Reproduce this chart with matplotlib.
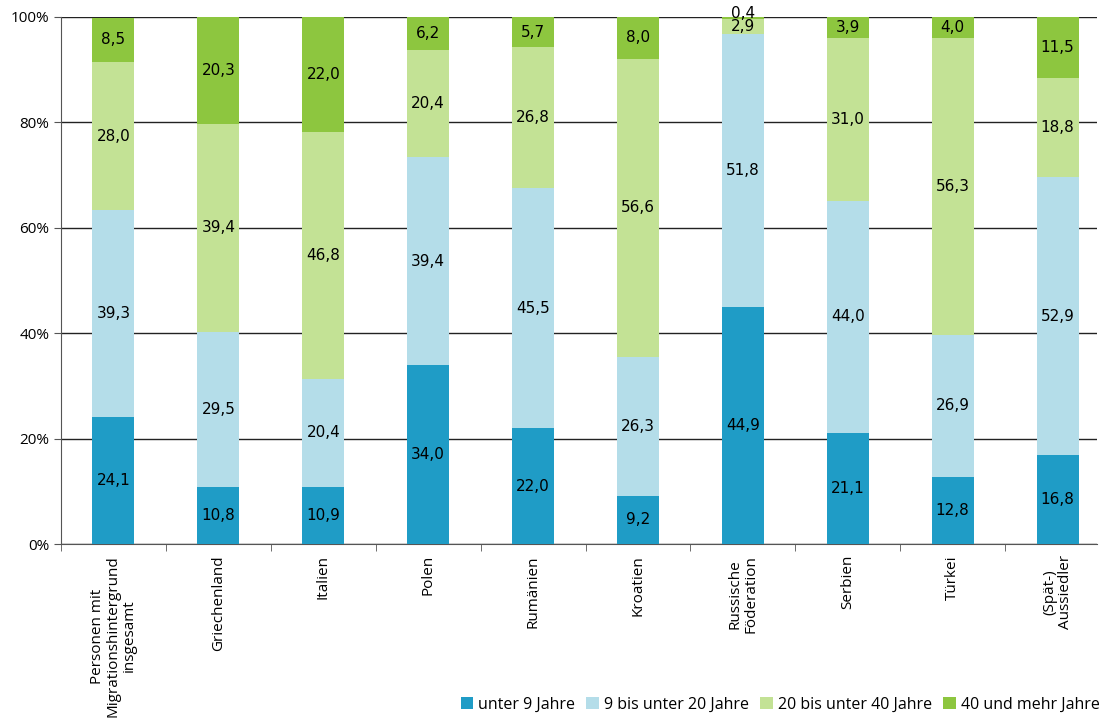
import matplotlib
matplotlib.use("Agg")
import matplotlib.pyplot as plt
import numpy as np

plt.rcParams['font.family'] = ['Open Sans', 'DejaVu Sans']

categories = [
    "Personen mit\nMigrationshintergrund\ninsgesamt",
    "Griechenland", "Italien", "Polen", "Rumänien", "Kroatien",
    "Russische\nFöderation", "Serbien", "Türkei", "(Spät-)\nAussiedler",
]
series_names = ["unter 9 Jahre", "9 bis unter 20 Jahre",
                "20 bis unter 40 Jahre", "40 und mehr Jahre"]
unter_9 = [24.1, 10.8, 10.9, 34.0, 22.0, 9.2, 44.9, 21.1, 12.8, 16.8]
von_9_bis_20 = [39.3, 29.5, 20.4, 39.4, 45.5, 26.3, 51.8, 44.0, 26.9, 52.9]
von_20_bis_40 = [28.0, 39.4, 46.8, 20.4, 26.8, 56.6, 2.9, 31.0, 56.3, 18.8]
ab_40 = [8.5, 20.3, 22.0, 6.2, 5.7, 8.0, 0.4, 3.9, 4.0, 11.5]
colors = ["#1f9cc6", "#b4dde9", "#c3e295", "#8dc63f"]

fig = plt.figure(figsize=(11.05, 7.2), dpi=100)
# one category = ~104.9 px, axis ends at x=1097 px
ax = fig.add_axes([61 / 1105, 1 - 544 / 720, 1036 / 1105, 527 / 720])

x = np.arange(len(categories))
bottom = np.zeros(len(categories))
for name, vals, col in zip(series_names, [unter_9, von_9_bis_20, von_20_bis_40, ab_40], colors):
    vals = np.array(vals)
    ax.bar(x, vals, width=0.4, bottom=bottom, color=col, label=name, zorder=3)
    for xi, b, v in zip(x, bottom, vals):
        y = b + v / 2
        if v < 1:
            y = b + v + 0.6
        ax.text(xi, y, f"{v:.1f}".replace(".", ","), ha="center", va="center",
                fontsize=11, color="black", family="DejaVu Sans", zorder=4)
    bottom += vals

ax.set_xlim(-0.5, -0.5 + 1036 / 104.9)
ax.set_ylim(0, 100)
ax.set_yticks(np.arange(0, 101, 20))
ax.set_yticklabels([f"{v}%" for v in range(0, 101, 20)], fontsize=11)
ax.yaxis.grid(True, color="#222222", linewidth=1.0, zorder=1)
ax.set_axisbelow(True)

ax.set_xticks(x)
ax.set_xticklabels(categories, rotation=90, ha="center", va="top",
                   multialignment="center", fontsize=11, linespacing=1.1)
ax.tick_params(axis="x", length=0, pad=8)
ax.set_xticks(np.arange(-0.5, len(categories) - 0.5, 1), minor=True)
ax.tick_params(axis="x", which="minor", length=5, color="#555555")
ax.tick_params(axis="y", length=5, color="#555555")

for s in ["top", "right"]:
    ax.spines[s].set_visible(False)
ax.spines["left"].set_color("#555555")
ax.spines["bottom"].set_color("#555555")

fig.legend(loc="lower right", bbox_to_anchor=(1.008, -0.01), ncol=4, frameon=False,
           fontsize=11.5, handlelength=0.8, handleheight=0.8, handletextpad=0.3,
           columnspacing=0.7)

fig.savefig("out.png", dpi=100)
